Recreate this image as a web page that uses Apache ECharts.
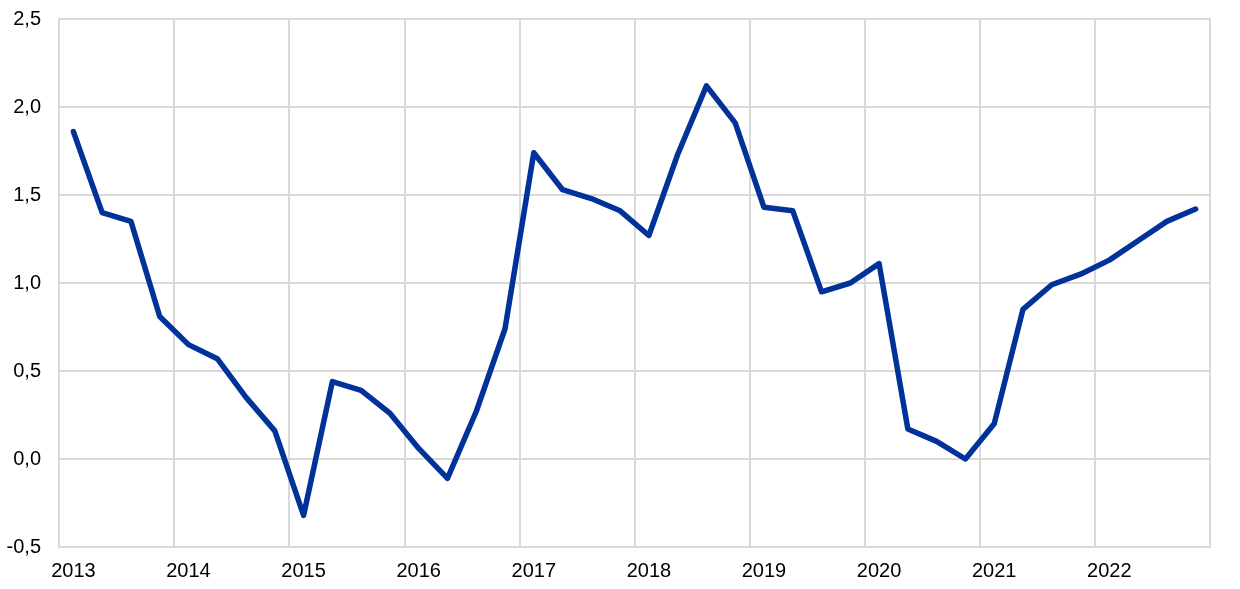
<!DOCTYPE html>
<html>
<head>
<meta charset="utf-8">
<script src="https://cdn.jsdelivr.net/npm/echarts@6/dist/echarts.min.js"></script>
<style>html,body{margin:0;padding:0;background:#fff;}#chart{width:1240px;height:589px;}</style>
</head>
<body>
<div id="chart"></div>
<script>
var years = ['2013','2014','2015','2016','2017','2018','2019','2020','2021','2022'];
var quarters = [];
years.forEach(function(y){ ['Q1','Q2','Q3','Q4'].forEach(function(q){ quarters.push(y + q); }); });
var values = [
  1.86, 1.40, 1.35, 0.81,
  0.65, 0.57, 0.35, 0.16,
  -0.32, 0.44, 0.39, 0.26,
  0.06, -0.11, 0.27, 0.74,
  1.74, 1.53, 1.48, 1.41,
  1.27, 1.73, 2.12, 1.91,
  1.43, 1.41, 0.95, 1.00,
  1.11, 0.17, 0.10, 0.00,
  0.20, 0.85, 0.99, 1.05,
  1.13, 1.24, 1.35, 1.42
];
var yMin = -0.5, yMax = 2.5, yStep = 0.5;

var chart = echarts.init(document.getElementById('chart'));
chart.setOption({
  animation: false,
  grid: { left: 59, right: 30, top: 19, bottom: 42, show: true, borderColor: '#d9d9d9', borderWidth: 2 },
  xAxis: {
    type: 'category',
    data: quarters,
    boundaryGap: true,
    axisLine: { show: true, lineStyle: { color: '#d9d9d9', width: 2 } },
    axisTick: { show: false, interval: 3 },
    axisLabel: {
      interval: 3, margin: 14,
      fontFamily: 'Liberation Sans, Arial, sans-serif', fontSize: 20, color: '#000',
      formatter: function(v){ return v.slice(0,4); }
    },
    splitLine: { show: true, interval: 3, lineStyle: { color: '#d9d9d9', width: 2 } }
  },
  yAxis: {
    type: 'value', min: yMin, max: yMax, interval: yStep,
    axisLine: { show: false },
    axisTick: { show: false },
    axisLabel: {
      margin: 18,
      fontFamily: 'Liberation Sans, Arial, sans-serif', fontSize: 20, color: '#000',
      formatter: function(v){ return v.toFixed(1).replace('.', ','); }
    },
    splitLine: { show: true, lineStyle: { color: '#d9d9d9', width: 2 } }
  },
  series: [{
    type: 'line',
    data: values,
    symbol: 'none',
    lineStyle: { color: '#003299', width: 5.5, join: 'round', cap: 'round' }
  }]
});
</script>
</body>
</html>
